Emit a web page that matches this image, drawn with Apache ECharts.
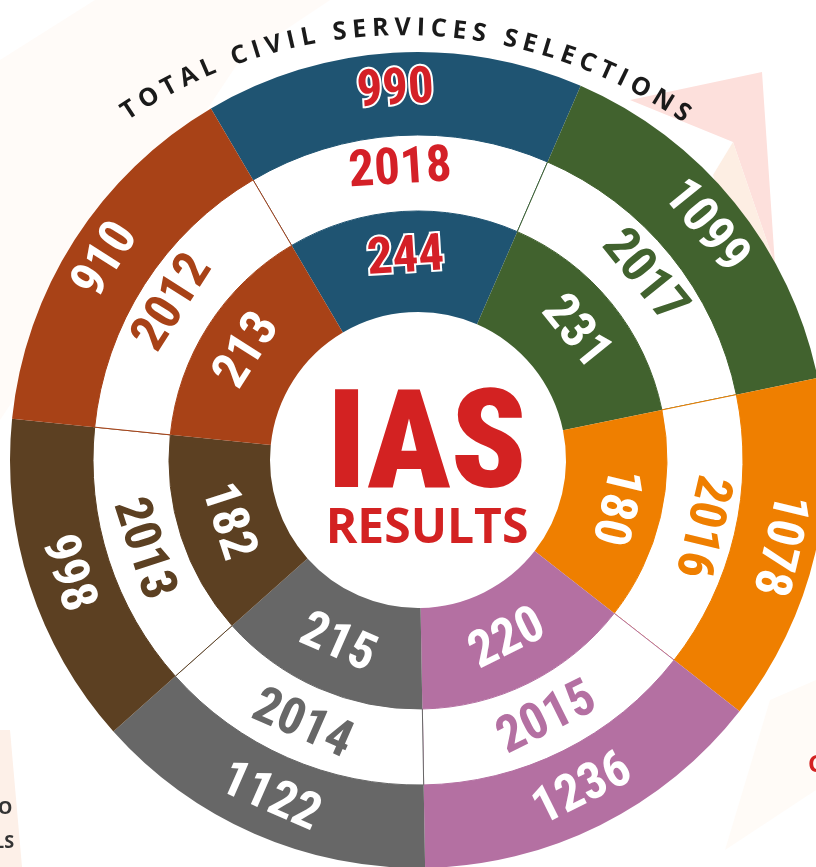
<!DOCTYPE html>
<html>
<head>
<meta charset="utf-8">
<title>IAS Results</title>
<script src="https://cdn.jsdelivr.net/npm/echarts@6/dist/echarts.min.js"></script>
<style>
  html, body { margin: 0; padding: 0; background: #fff; }
  #chart { width: 816px; height: 867px; }
</style>
</head>
<body>
<div id="chart"></div>
<script>
const years = ['2018', '2017', '2016', '2015', '2014', '2013', '2012'];
const totalSelections = [990, 1099, 1078, 1236, 1122, 998, 910];  // outer ring
const iasSelections = [244, 231, 180, 220, 215, 182, 213];         // inner ring
// slices are not proportional to the numbers, designer drew them roughly equal
const sliceShare = [54, 54.9, 49.6, 51, 49.3, 47.5, 53.7];
const titleText = 'TOTAL CIVIL SERVICES SELECTIONS';

const colors = ['#1f5472', '#41622e', '#ef7f00', '#b470a2', '#676767', '#5c4022', '#a84217'];
const red = '#d42027';

// pick the narrowest installed face, the original uses a condensed display font
const probe = document.createElement('canvas').getContext('2d');
function textW(font, s) { probe.font = font; return probe.measureText(s).width; }
function hasFont(f) {
  const s = '2018 IASmwil';
  return textW('bold 40px monospace', s) !== textW('bold 40px "' + f + '", monospace', s);
}
const narrowList = ['Noto Sans ExtraCondensed', 'Noto Sans Condensed', 'Roboto Condensed',
  'Liberation Sans Narrow', 'Noto Sans SemiCondensed', 'DejaVu Sans Condensed'];
const numFamily = narrowList.filter(hasFont)[0] || 'sans-serif';
const numFont = '"' + numFamily + '", sans-serif';
// fit "2018" to ~104px wide, digits at most ~40px tall
const numSize = Math.min(58, Math.round(104 * 50 / textW('bold 50px ' + numFont, '2018')));
const iasSize = Math.min(140, Math.round(200 * 100 / textW('900 100px ' + numFont, 'IAS')));

const center = [418, 460];
const firstEdge = -30.5; // deg clockwise from 12 o'clock where the 2018 slice starts

// middle angle of every slice, used to turn the labels along the ring
let acc = firstEdge;
const midAngles = sliceShare.map(function (s) {
  const m = acc + s / 2;
  acc += s;
  return m;
});
function labelRotate(a) {
  a = (a + 360) % 360;
  // lower half gets flipped so it reads upright
  return (a > 120 && a < 270) ? 180 - a : -a;
}

function ringSeries(name, radius, texts, isMiddle) {
  return {
    name: name,
    type: 'pie',
    center: center,
    radius: radius,
    startAngle: 90 - firstEdge,
    clockwise: true,
    silent: true,
    animation: false,
    labelLine: { show: false },
    label: {
      show: true,
      position: 'inside',
      fontFamily: numFont,
      fontWeight: 'bold',
      fontSize: numSize,
      formatter: function (p) { return texts[p.dataIndex]; }
    },
    data: sliceShare.map(function (v, i) {
      const first = i === 0;
      return {
        value: v,
        name: years[i],
        itemStyle: isMiddle
          ? { color: '#fff', borderColor: colors[i], borderWidth: 1 }
          : { color: colors[i], borderWidth: 0 },
        label: {
          rotate: labelRotate(midAngles[i]),
          color: first ? red : (isMiddle ? colors[i] : '#fff'),
          textBorderColor: first && !isMiddle ? '#fff' : 'transparent',
          textBorderWidth: first && !isMiddle ? 4 : 0
        }
      };
    })
  };
}

// curved heading: one text element per letter along an arc
const arcCenter = [404, 525];
const arcR = 497;
const arcFrom = -33.5, arcTo = 34; // deg, first and last letter centres
const titleFont = 'bold 25px "Open Sans"';
const widths = titleText.split('').map(function (c) { return textW(titleFont, c); });
const n = widths.length;
const arcLen = (arcTo - arcFrom) * Math.PI / 180 * arcR;
const plain = widths.reduce(function (a, b) { return a + b; }, 0) - widths[0] / 2 - widths[n - 1] / 2;
const gap = (arcLen - plain) / (n - 1);
const titleEls = [];
let pos = 0;
titleText.split('').forEach(function (c, i) {
  if (i > 0) pos += widths[i - 1] / 2 + gap + widths[i] / 2;
  const th = arcFrom * Math.PI / 180 + pos / arcR;
  if (c === ' ') return;
  titleEls.push({
    type: 'text',
    x: arcCenter[0] + arcR * Math.sin(th),
    y: arcCenter[1] - arcR * Math.cos(th),
    rotation: -th,
    z: 10,
    style: {
      text: c, fill: '#1a1a1a', font: titleFont,
      align: 'center', verticalAlign: 'middle'
    }
  });
});

// faint background shapes of the page
const backdrop = [
  { pts: [[630, 100], [762, 72], [775, 265], [733, 142]], fill: '#fde0dc' },
  { pts: [[733, 142], [775, 265], [765, 330], [713, 175]], fill: '#fdeee3' },
  { pts: [[0, 60], [95, 0], [330, 0], [240, 60], [0, 420]], fill: '#fffbf8' },
  { pts: [[0, 730], [10, 730], [22, 867], [0, 867]], fill: '#fdf0e8' },
  { pts: [[770, 700], [816, 680], [816, 790], [725, 850]], fill: '#fffbf7' }
];
const backEls = backdrop.map(function (b) {
  return { type: 'polygon', z: -10, silent: true, shape: { points: b.pts }, style: { fill: b.fill } };
});

const chart = echarts.init(document.getElementById('chart'));
chart.setOption({
  backgroundColor: '#fff',
  animation: false,
  graphic: {
    elements: backEls.concat(titleEls).concat([
      {
        type: 'text', x: 427, y: 452, z: 20,
        style: {
          text: 'IAS', fill: '#d32222', align: 'center', verticalAlign: 'middle',
          font: '900 ' + iasSize + 'px ' + numFont
        }
      },
      {
        type: 'text', x: 427, y: 529, z: 20,
        style: {
          text: 'RESULTS', fill: '#d32222', align: 'center', verticalAlign: 'middle',
          font: 'bold 48px "Open Sans", sans-serif'
        }
      },
      // bits of neighbouring page text cut by the crop
      { type: 'text', x: -2, y: 809, z: 20, style: { text: 'O', fill: '#333', font: 'bold 18px "Open Sans"', verticalAlign: 'middle' } },
      { type: 'text', x: -6, y: 843, z: 20, style: { text: 'LS', fill: '#333', font: 'bold 18px "Open Sans"', verticalAlign: 'middle' } },
      { type: 'text', x: 808, y: 765, z: 20, style: { text: 'C', fill: '#d32222', font: 'bold 24px "Open Sans"', verticalAlign: 'middle' } }
    ])
  },
  series: [
    ringSeries('IAS', [148, 249], iasSelections, false),
    ringSeries('Year', [249, 325], years, true),
    ringSeries('Total', [325, 408], totalSelections, false)
  ]
});
</script>
</body>
</html>
